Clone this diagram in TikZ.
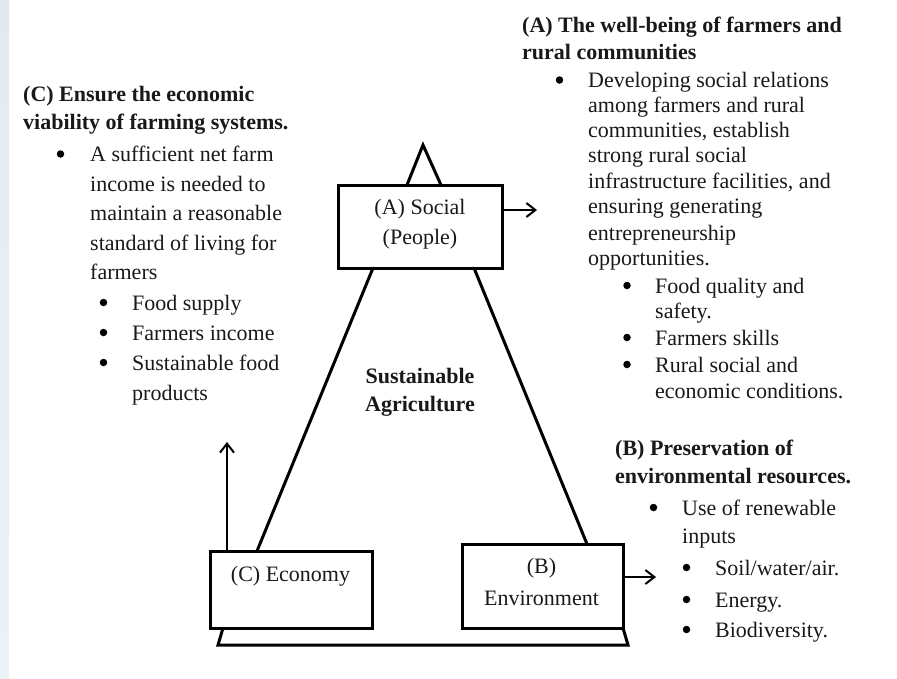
\documentclass[tikz,border=0pt]{standalone}
\usepackage{fontspec}
\setmainfont{Liberation Serif}
\usetikzlibrary{arrows.meta,calc}
\definecolor{strip}{RGB}{226,234,241}
\definecolor{stripl}{RGB}{236,241,246}
\tikzset{
  txt/.style={anchor=base west, inner sep=0pt, font=\fontsize{22}{26}\selectfont, text=black!90},
  ctxt/.style={anchor=base, inner sep=0pt, font=\fontsize{22}{26}\selectfont, text=black!90},
  btxt/.style={txt, font=\fontsize{22}{26}\selectfont\bfseries},
  cbtxt/.style={ctxt, font=\fontsize{22}{26}\selectfont\bfseries},
  boxst/.style={draw=black, line width=3pt, fill=white, rectangle, inner sep=0pt},
  leg/.style={line width=3pt, line cap=round},
  dot/.style={circle, fill=black, inner sep=0pt, minimum size=7.5pt},
  arr/.style={line width=2pt, -{Straight Barb[length=9pt,width=14pt,line width=2pt]}}
}
\begin{document}
\begin{tikzpicture}[x=1pt,y=-1pt]
\useasboundingbox (0,0) rectangle (897,678);
\fill[white] (0,0) rectangle (897,678);
\shade[top color=strip, bottom color=stripl] (0,0) rectangle (9,678);

% base trapezoid
\draw[line width=3pt, line join=miter] (223,628) -- (218,645) -- (628,645) -- (623,628);

% boxes
\node[boxst, minimum width=164pt, minimum height=83pt] (soc) at (420,226.5) {};
\node[boxst, minimum width=162pt, minimum height=77pt] (eco) at (291,589.5) {};
\node[boxst, minimum width=161pt, minimum height=84pt] (env) at (542.5,586) {};

% top triangle
\coordinate (tl) at (407,185);
\coordinate (tap) at (423,145);
\coordinate (tr) at (441,185);
\draw[leg, line join=miter] (tl) -- (tap) -- (tr);

% legs
\coordinate (sl) at (373,268);
\coordinate (sr) at (474,268);
\coordinate (el) at (257,551);
\coordinate (er) at (587,544);
\draw[leg] (sl) -- (el);
\draw[leg] (sr) -- (er);

% arrows
\coordinate (socS) at (502,210);
\coordinate (socT) at (537,210);
\draw[arr] (socS) -- (socT);
\coordinate (ecoS) at (227,551);
\coordinate (ecoT) at (227,442);
\draw[arr] (ecoS) -- (ecoT);
\coordinate (envS) at (623,577);
\coordinate (envT) at (656,577);
\draw[arr] (envS) -- (envT);

% box texts
\node[ctxt] (soc1) at (420,214) {(A) Social};
\node[ctxt] (soc2) at (420,244) {(People)};
\node[ctxt] (eco1) at (290.5,581) {(C) Economy};
\node[ctxt] (env1) at (541.5,573) {(B)};
\node[ctxt] (env2) at (541.5,605) {Environment};

% centre
\node[cbtxt] (sa1) at (420,383) {Sustainable};
\node[cbtxt] (sa2) at (420,411) {Agriculture};

% (C) block
\node[btxt] (ch1) at (23,101) {(C) Ensure the economic};
\node[btxt] (ch2) at (23,129) {viability of farming systems.};
\node[dot] (cb0) at (60.5,154) {};
\foreach \t/\yy [count=\i] in {A sufficient net farm/161, income is needed to/191, maintain a reasonable/220, standard of living for/250, farmers/279}
  \node[txt] (cl\i) at (90,\yy) {\t};
\foreach \yy [count=\i] in {310, 340, 370}
  \node[dot] (cbs\i) at (103.5,\yy-7.5) {};
\foreach \t/\yy [count=\i] in {Food supply/310, Farmers income/340, Sustainable food/370, products/400}
  \node[txt] (cs\i) at (132,\yy) {\t};

% (A) block
\node[btxt] (ah1) at (522,32) {(A) The well-being of farmers and};
\node[btxt] (ah2) at (522,59) {rural communities};
\node[dot] (ab0) at (559.5,80) {};
\foreach \t/\yy [count=\i] in {Developing social relations/87, among farmers and rural/112, {communities, establish}/137, strong rural social/162, {infrastructure facilities, and}/188, ensuring generating/213, entrepreneurship/240, opportunities./265}
  \node[txt] (al\i) at (588,\yy) {\t};
\foreach \yy [count=\i] in {293, 345, 372}
  \node[dot] (abs\i) at (627,\yy-7.5) {};
\foreach \t/\yy [count=\i] in {Food quality and/293, safety./318, Farmers skills/345, Rural social and/372, economic conditions./398}
  \node[txt] (as\i) at (655,\yy) {\t};

% (B) block
\node[btxt] (bh1) at (615,455) {(B) Preservation of};
\node[btxt] (bh2) at (615,483) {environmental resources.};
\node[dot] (bb0) at (653.5,507.5) {};
\node[txt] (bl1) at (682,515) {Use of renewable};
\node[txt] (bl2) at (682,543) {inputs};
\foreach \yy [count=\i] in {575, 607, 637}
  \node[dot] (bbs\i) at (686.5,\yy-7.5) {};
\node[txt] (bs1) at (715,575) {Soil/water/air.};
\node[txt] (bs2) at (715,607) {Energy.};
\node[txt] (bs3) at (715,637) {Biodiversity.};
\end{tikzpicture}
\end{document}
